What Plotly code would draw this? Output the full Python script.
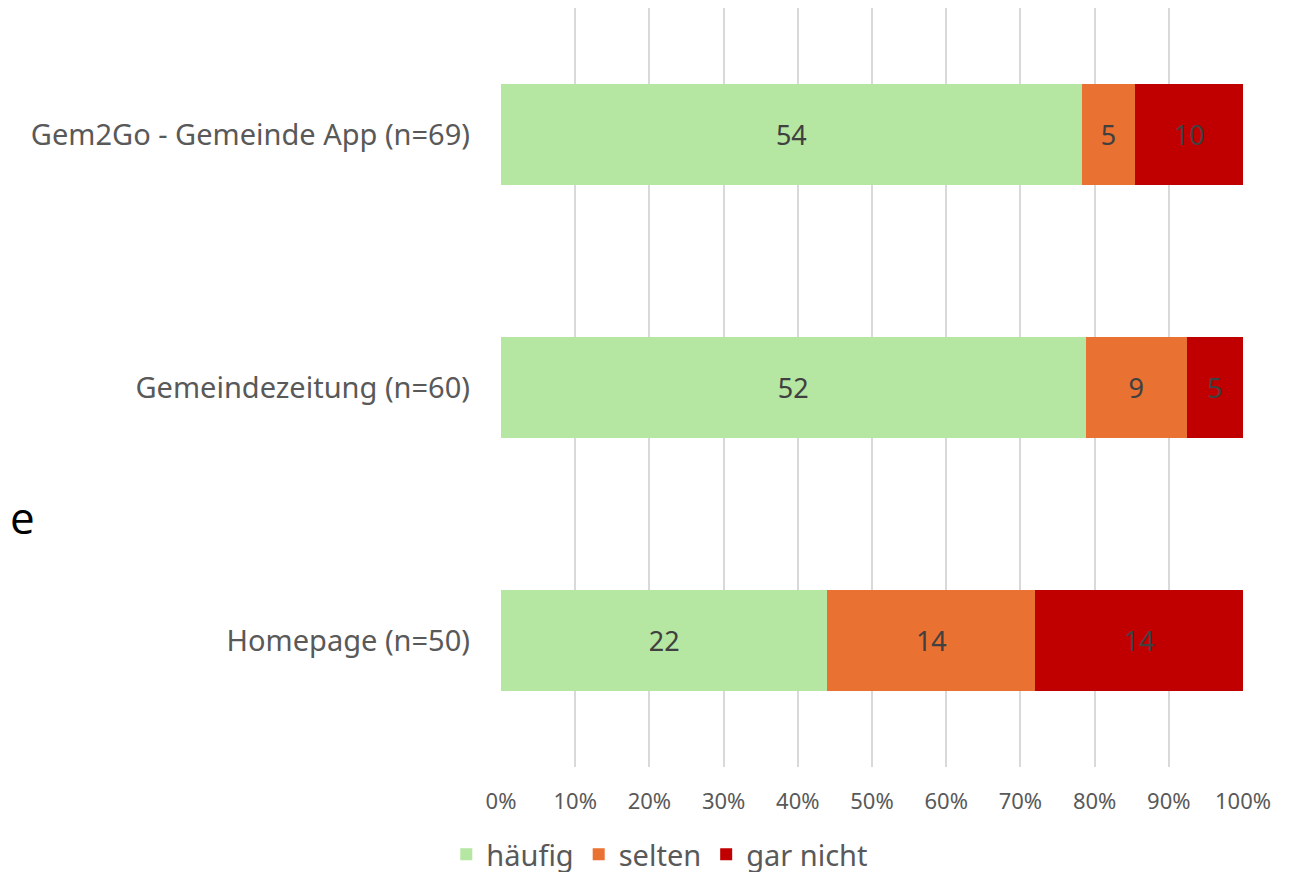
import plotly.graph_objects as go

categories = ["Homepage (n=50)", "Gemeindezeitung (n=60)", "Gem2Go - Gemeinde App (n=69)"]
haeufig = [22, 52, 54]
selten = [14, 9, 5]
gar_nicht = [14, 5, 10]
series_names = ["häufig", "selten", "gar nicht"]
colors = ["#b5e6a2", "#e97132", "#c00000"]
tick_vals = [0, 10, 20, 30, 40, 50, 60, 70, 80, 90, 100]
tick_text = [f"{v}%" for v in tick_vals]

FONT = "Noto Sans"
fig = go.Figure()
for name, vals, col in zip(series_names, [haeufig, selten, gar_nicht], colors):
    fig.add_trace(go.Bar(
        y=categories, x=vals, name=name, orientation="h",
        marker=dict(color=col, line=dict(width=0)),
        text=[str(v) for v in vals], textposition="inside",
        insidetextanchor="middle", textangle=0,
        textfont=dict(family=FONT, size=27, color="#404040"),
    ))

fig.update_layout(
    barmode="stack", barnorm="percent", bargap=0.6,
    width=1294, height=872,
    margin=dict(l=493, r=59, t=0, b=112),
    plot_bgcolor="white", paper_bgcolor="white",
    font=dict(family=FONT, color="#595959"),
    xaxis=dict(range=[0, 100], tickvals=tick_vals, ticktext=tick_text,
               showgrid=True, gridcolor="#d9d9d9", gridwidth=1.5,
               zeroline=False, tickfont=dict(size=22, color="#595959"),
               ticks="", ticklabelstandoff=19, fixedrange=True),
    yaxis=dict(showgrid=False, zeroline=False, ticks="",
               tickfont=dict(size=29, color="#595959"), ticklabelstandoff=30),
    legend=dict(orientation="h", x=0.214, xanchor="center", y=-0.1158, yanchor="middle",
                font=dict(size=29, color="#595959"), traceorder="normal"),
    showlegend=True,
    uniformtext=dict(minsize=10, mode="show"),
)
fig.add_annotation(text="e", xref="paper", yref="paper", x=-493 / 742, y=(760 - 510) / 760,
                   xanchor="left", yanchor="middle", showarrow=False,
                   font=dict(family="Open Sans", size=44, color="black"))
fig.write_html("out.html")
